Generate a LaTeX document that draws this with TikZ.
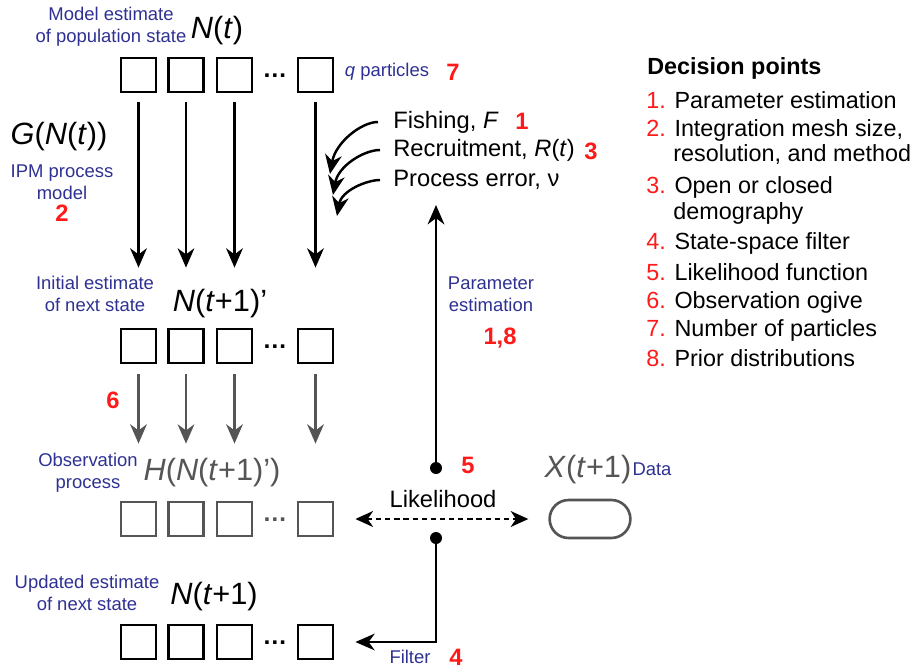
\documentclass[tikz,border=0pt]{standalone}
\usepackage{fontspec}
\setmainfont{Liberation Sans}
\usetikzlibrary{arrows.meta, positioning, calc, shapes.misc}
\definecolor{color_text}{HTML}{000000}
\definecolor{color_label}{HTML}{2E3192}
\definecolor{color_point}{HTML}{FF1A1A}
\definecolor{color_mute}{HTML}{555555}
\newcommand{\listnum}[1]{\textcolor{color_point}{#1}}
\tikzset{
  particle_box/.style={draw=color_text, line width=1.6pt, minimum width=0.7cm, minimum height=0.68cm, inner sep=0pt},
  obs_box/.style={particle_box, draw=color_mute},
  particle_dots/.style={font=\fontsize{14}{14}\selectfont\bfseries, inner sep=0pt, anchor=base},
  state_label/.style={font=\fontsize{17.5}{20}\selectfont, text=color_text, inner sep=0pt},
  step_label/.style={font=\fontsize{10.5}{12.5}\selectfont, text=color_label, align=center, inner sep=0pt},
  point_label/.style={font=\fontsize{13.5}{16}\selectfont\bfseries, text=color_point, inner sep=0pt},
  input_label/.style={font=\fontsize{13.5}{16}\selectfont, text=color_text, anchor=west, inner sep=0pt},
  list_label/.style={font=\fontsize{13.3}{16}\selectfont, text=color_text, anchor=west, inner sep=0pt},
  figure_dot/.style={circle, fill=color_text, inner sep=0pt, minimum size=0.24cm},
  data_blob/.style={rounded rectangle, draw=color_mute, line width=1.5pt, minimum width=1.85cm, minimum height=0.76cm},
  diagram_arrow/.style={-{Stealth[length=11pt, width=9.5pt, inset=3.5pt]}, draw=color_text, line width=1.4pt},
  observe_arrow/.style={-{Stealth[length=11pt, width=9.5pt, inset=3.5pt]}, draw=color_mute, line width=1.4pt},
  likelihood_arrow/.style={{Stealth[length=10pt, width=9pt, inset=3pt]}-{Stealth[length=10pt, width=9pt, inset=3pt]}, draw=color_text, line width=1.4pt, dash pattern=on 3pt off 2.2pt},
}

\begin{document}
\begin{tikzpicture}[x=0.02cm, y=-0.02cm]
    \useasboundingbox (0,0) rectangle (918,669);

    % particle rows
    \node[particle_box] (top_a) at (138.5,75) {};
    \node[particle_box] (top_b) at (186,75) {};
    \node[particle_box] (top_c) at (234.5,75) {};
    \node[particle_dots] (top_dots) at (275,77.5) {…};
    \node[particle_box] (top_d) at (315.5,75) {};

    \node[particle_box] (init_a) at (138.5,346) {};
    \node[particle_box] (init_b) at (186,346) {};
    \node[particle_box] (init_c) at (234.5,346) {};
    \node[particle_dots] (init_dots) at (275,348.5) {…};
    \node[particle_box] (init_d) at (315.5,346) {};

    \node[obs_box] (obs_a) at (138.5,519) {};
    \node[obs_box] (obs_b) at (186,519) {};
    \node[obs_box] (obs_c) at (234.5,519) {};
    \node[particle_dots, text=color_mute] (obs_dots) at (275,521.5) {…};
    \node[obs_box] (obs_d) at (315.5,519) {};

    \node[particle_box] (upd_a) at (138.5,642) {};
    \node[particle_box] (upd_b) at (186,642) {};
    \node[particle_box] (upd_c) at (234.5,642) {};
    \node[particle_dots] (upd_dots) at (275,644.5) {…};
    \node[particle_box] (upd_d) at (315.5,642) {};

    % state labels
    \node[step_label] (model_lbl) at (111,27) {Model estimate\\of population state};
    \node[state_label] (state_t) at (217,31) {\textit{N}(\textit{t})};
    \node[state_label] (proc_fn) at (59,137) {\textit{G}(\textit{N}(\textit{t}))};
    \node[step_label] (ipm_lbl) at (62,182) {IPM process\\model};
    \node[point_label] (pt_2) at (62,213) {2};
    \node[step_label] (init_lbl) at (95,294) {Initial estimate\\of next state};
    \node[state_label] (state_init) at (220,304) {\textit{N}(\textit{t}+1)’};
    \node[point_label] (pt_6) at (113,400) {6};
    \node[step_label] (obs_lbl) at (88,473) {Observation\\process};
    \node[state_label, text=color_mute] (obs_fn) at (212,473) {\textit{H}(\textit{N}(\textit{t}+1)’)};
    \node[step_label] (upd_lbl) at (87,593) {Updated estimate\\of next state};
    \node[state_label] (state_upd) at (214,597) {\textit{N}(\textit{t}+1)};
    \node[step_label] (part_lbl) at (387,72) {\textit{q} particles};
    \node[point_label] (pt_7) at (453,72) {7};

    % process inputs
    \node[input_label] (fishing) at (393,122) {Fishing, \textit{F}};
    \node[point_label] (pt_1) at (522,121) {1};
    \node[input_label] (recruit) at (393,150) {Recruitment, \textit{R}(\textit{t})};
    \node[point_label] (pt_3) at (591,151) {3};
    \node[input_label] (perror) at (393,180) {Process error, ν};
    \coordinate (fish_tip) at (330,174);
    \coordinate (recruit_tip) at (333,195);
    \coordinate (perror_tip) at (337,216);

    % likelihood and data
    \node[figure_dot] (dot_up) at (436,468) {};
    \node[figure_dot] (dot_down) at (436,538) {};
    \coordinate (param_tip) at (436,205);
    \node[step_label] (param_lbl) at (491,294) {Parameter\\estimation};
    \node[point_label] (pt_18) at (500,338) {1,8};
    \node[point_label] (pt_5) at (468,465) {5};
    \node[input_label, anchor=center] (lik_lbl) at (443,499) {Likelihood};
    \node[data_blob] (data) at (590,519) {};
    \node[state_label, text=color_mute] (data_state) at (588,470) {\textit{X}(\textit{t}+1)};
    \node[step_label] (data_lbl) at (652,469) {Data};
    \node[step_label] (filter_lbl) at (410,657) {Filter};
    \node[point_label] (pt_4) at (456,657) {4};

    % decision points
    \node[list_label] (dp_title) at (647,68) {\bfseries Decision points};
    \node[list_label] (dp_1) at (646,100) {\listnum{1.} Parameter estimation};
    \node[list_label] (dp_2) at (646,130) {\listnum{2.} Integration mesh size,};
    \node[list_label] (dp_2b) at (673,155) {resolution, and method};
    \node[list_label] (dp_3) at (646,187) {\listnum{3.} Open or closed};
    \node[list_label] (dp_3b) at (673,213) {demography};
    \node[list_label] (dp_4) at (646,243) {\listnum{4.} State-space filter};
    \node[list_label] (dp_5) at (646,272) {\listnum{5.} Likelihood function};
    \node[list_label] (dp_6) at (646,302) {\listnum{6.} Observation ogive};
    \node[list_label] (dp_7) at (646,330) {\listnum{7.} Number of particles};
    \node[list_label] (dp_8) at (646,358) {\listnum{8.} Prior distributions};

    % connectors
    \draw[diagram_arrow, shorten <=0.18cm, shorten >=1.2cm] (top_a) -- (init_a);
    \draw[diagram_arrow, shorten <=0.18cm, shorten >=1.2cm] (top_b) -- (init_b);
    \draw[diagram_arrow, shorten <=0.18cm, shorten >=1.2cm] (top_c) -- (init_c);
    \draw[diagram_arrow, shorten <=0.18cm, shorten >=1.2cm] (top_d) -- (init_d);
    \draw[observe_arrow, shorten <=0.2cm, shorten >=1.14cm] (init_a) -- (obs_a);
    \draw[observe_arrow, shorten <=0.2cm, shorten >=1.14cm] (init_b) -- (obs_b);
    \draw[observe_arrow, shorten <=0.2cm, shorten >=1.14cm] (init_c) -- (obs_c);
    \draw[observe_arrow, shorten <=0.2cm, shorten >=1.14cm] (init_d) -- (obs_d);
    \draw[diagram_arrow, shorten <=0.3cm] (fishing.west) to[out=180, in=80] (fish_tip);
    \draw[diagram_arrow, shorten <=0.26cm] (recruit.west) to[out=180, in=80] (recruit_tip);
    \draw[diagram_arrow, shorten <=0.26cm] (perror.west) to[out=180, in=80] (perror_tip);
    \draw[diagram_arrow] (dot_up.center) -- (param_tip);
    \draw[likelihood_arrow, shorten <=0.42cm, shorten >=0.4cm] (obs_d.east) -- (data.west);
    \draw[diagram_arrow, shorten >=0.42cm] (dot_down.center) |- (upd_d.east);
  \end{tikzpicture}
\end{document}
